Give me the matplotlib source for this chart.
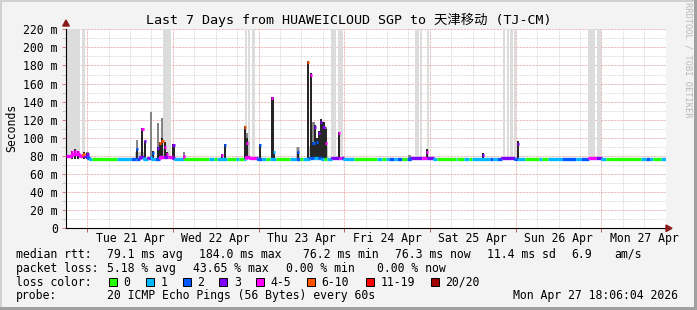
import matplotlib
matplotlib.use('Agg')
import matplotlib.pyplot as plt
from matplotlib.patches import Rectangle, Polygon

MONO = ['DejaVu Sans Mono', 'Noto Sans CJK SC']

# hours from Tue 21 Apr 00:00, graph ends Mon 27 Apr 18:06
T_START, T_END = -5.9, 162.1
DAY_LABELS = ['Tue 21 Apr', 'Wed 22 Apr', 'Thu 23 Apr', 'Fri 24 Apr',
              'Sat 25 Apr', 'Sun 26 Apr', 'Mon 27 Apr']

LOSS_NAMES = ['0', '1', '2', '3', '4-5', '6-10', '11-19', '20/20']
LOSS_COLORS = ['#26ff00', '#00b8ff', '#0059ff', '#7e00ff',
               '#ff00ff', '#ff5500', '#ff0000', '#a00000']

# median rtt (ms) as steps: start hour, loss class, value
seg_start = [-5.9, -4.2, -2.0, -1.1, -0.6, 0.3, 0.8, 1.4, 8.5, 12.2, 13.7, 14.8,
             15.9, 17.1, 18.2, 19.0, 20.4, 21.5, 22.7, 24.1, 24.6, 27.1, 27.4,
             34.1, 35.5, 36.4, 39.2, 41.6, 42.5, 43.9, 44.5, 45.6, 47.3, 47.8,
             49.0, 50.1, 51.2, 52.9, 56.8, 58.5, 59.6, 60.4, 62.4, 63.5, 64.6,
             65.7, 66.3, 67.1, 68.5, 70.5, 71.0, 71.9, 74.7, 81.1, 82.5, 83.6,
             84.5, 85.9, 86.7, 88.1, 89.5, 90.6, 93.7, 95.1, 97.1, 97.9, 103.2,
             103.5, 105.5, 106.9, 107.7, 112.7, 113.8, 114.7, 116.1, 119.7,
             120.6, 122.7, 126.4, 127.3, 129.2, 132.9, 136.8, 138.2, 140.4,
             142.4, 144.1, 145.2, 155.0, 156.4, 157.5, 158.6, 160.6]
seg_loss = [4, 4, 4, 5, 3, 2, 1, 0, 1, 2, 2, 3,
            1, 3, 1, 2, 4, 3, 4, 3, 1, 4, 0,
            1, 0, 1, 0, 1, 0, 1, 4, 4, 3, 2,
            1, 0, 1, 0, 1, 2, 0, 1, 2, 1, 2,
            1, 0, 1, 3, 4, 3, 1, 0, 1, 0, 1,
            2, 1, 2, 0, 2, 3, 4, 3, 1, 0, 1,
            0, 1, 0, 1, 2, 1, 2, 3, 2,
            1, 0, 1, 0, 1, 2, 1, 2, 4,
            3, 1, 0, 1, 2, 1, 0, 1]
seg_rtt = [80, 82, 79.5, 80.5, 80, 78, 77, 76.5, 76.5, 76.7, 77, 78.5,
           77, 78, 77, 77, 79, 79, 79, 78, 76.7, 77.5, 76.5,
           76.5, 76.5, 76.7, 76.5, 76.7, 76.5, 77, 79, 78, 77.5, 77,
           76.7, 76.5, 76.8, 76.5, 76.7, 77, 76.5, 77, 78, 78, 78,
           77, 76.7, 77, 78, 78, 78, 76.8, 76.5, 76.7, 76.5, 76.7,
           76.8, 76.7, 76.8, 76.5, 77, 77.5, 78, 77.5, 76.8, 76.5, 76.7,
           76.5, 76.7, 76.5, 76.7, 77, 76.8, 77, 77.5, 77,
           76.7, 76.5, 76.7, 76.5, 76.7, 77, 76.8, 77, 77.5,
           77.5, 76.8, 76.5, 76.7, 76.8, 76.7, 76.5, 76.7]

# spikes: hour, smoke top, dense smoke top, median, loss class
spike_h = [-4.2, -3.4, -2.5, -0.8, 0.1, 14.0, 15.5, 16.1, 17.8, 18.5, 19.9,
           20.4, 21.1, 21.7, 22.4, 24.2, 27.1, 37.8, 38.7, 44.3, 44.9, 48.4,
           51.9, 52.4, 59.0, 61.9, 62.8, 63.4, 63.9, 64.5, 65.0, 65.6, 66.2,
           66.8, 70.5, 90.3, 95.2, 110.9, 120.7]
spike_top = [86, 87.5, 86, 84, 84, 97.5, 111, 97, 128.6, 85, 116,
             95, 122, 95, 84, 93, 84, 82, 93, 113, 105, 93,
             145, 85, 90, 185, 171.5, 118, 114, 100, 108, 121, 118,
             112, 107, 81, 88, 83, 96]
spike_core = [86, 87.5, 85, 84, 83, 88, 111, 97, 79, 85, 90,
              95, 100, 95, 84, 93, 79, 82, 93, 113, 100, 93,
              145, 85, 84, 185, 171.5, 95, 114, 100, 108, 121, 118,
              110, 107, 78, 88, 83, 96]
spike_med = [84, 85, 84.5, 82, 82, 88, 110, 96, 79, 83, 89,
             94, 97, 90, 82, 92, 80, 81, 92, 112, 94, 92,
             144, 84, 84, 184, 170, 94, 112, 95, 105, 117, 112,
             94, 105, 77, 84, 81, 93]
spike_loss = [4, 4, 4, 5, 3, 2, 4, 3, 1, 2, 3,
              5, 5, 4, 4, 3, 4, 4, 2, 5, 4, 2,
              4, 1, 2, 5, 4, 2, 3, 2, 3, 3, 3,
              4, 4, 2, 4, 3, 3]

# light smoke around busy periods: from, to, top
haze_from = [13.5, 19.5, 43.8, 51.4, 58.5, 61.5]
haze_to = [16.5, 21.5, 45.5, 52.1, 59.5, 67.5]
haze_top = [84, 88, 97, 97, 90, 91]

# grey unknown bands: from, to
band_from = [-5.7, -1.3, 21.3, 44.2, 45.1, 46.1, 68.4, 70.3, 91.7, 93.1, 95.2,
             116.4, 117.7, 118.5, 119.6, 140.2, 142.9]
band_to = [-2.0, -0.6, 23.4, 44.7, 45.6, 47.1, 69.7, 71.7, 92.9, 93.8, 95.7,
           117.1, 118.1, 119.2, 120.0, 142.1, 144.0]

W, H = 697, 310
L, R, T, B = 66, 666, 29.3, 228.3


def fx(px):
    return px / W


def fy(py):
    return 1 - py / H


def box(x, y, w, h, color, **kw):
    fig.add_artist(Rectangle((fx(x), fy(y + h)), w / W, h / H, transform=fig.transFigure,
                             facecolor=color, **kw))


fig = plt.figure(figsize=(W / 100, H / 100), dpi=100)
fig.patch.set_facecolor('#f3f3f3')

# frame shading
box(0, 0, W, 2, '#d0d0d0', edgecolor='none')
box(0, 0, 2, H, '#d0d0d0', edgecolor='none')
box(0, H - 3, W, 3, '#a0a0a0', edgecolor='none')
box(W - 3, 0, 3, H, '#a0a0a0', edgecolor='none')

ax = fig.add_axes([fx(L), fy(B), (R - L) / W, (B - T) / H])
ax.set_xlim(T_START, T_END)
ax.set_ylim(0, 220)
ax.set_facecolor('white')

dot = (0, (0.72, 0.72))
for h in range(0, 163, 6):
    c = '#e4a0a0' if h % 24 == 0 and h <= 144 else '#d6d6d6'
    ax.axvline(h, color=c, lw=0.72, ls=dot, zorder=1)
for v in range(10, 221, 10):
    c = '#e4a0a0' if v % 20 == 0 else '#d6d6d6'
    ax.axhline(v, color=c, lw=0.72, ls=dot, zorder=1)

for a, b in zip(band_from, band_to):
    ax.fill_between([a, b], 79, 220, color='#dcdcdc', lw=0, zorder=2)

for a, b, t in zip(haze_from, haze_to, haze_top):
    ax.fill_between([a, b], 77, t, color='#c4c4c4', lw=0, zorder=3)

w = 0.6
tops = [t - 77 for t in spike_top]
cores = [c - 77 for c in spike_core]
ax.bar(spike_h, tops, bottom=77, width=w, color='#858585', lw=0, zorder=4)
ax.bar(spike_h, cores, bottom=77, width=w, color='#262626', lw=0, zorder=5)

# median line coloured by loss
ends = seg_start[1:] + [T_END]
prev = seg_rtt[0]
for s, e, lc, v in zip(seg_start, ends, seg_loss, seg_rtt):
    ax.plot([s, s, e], [prev, v, v], color=LOSS_COLORS[lc], lw=2.4,
            solid_capstyle='butt', zorder=6)
    prev = v
for h, m, lc in zip(spike_h, spike_med, spike_loss):
    ax.hlines(m, h - w / 2, h + w / 2, color=LOSS_COLORS[lc], lw=2.2, zorder=7)

for sp in ['top', 'right']:
    ax.spines[sp].set_visible(False)
ax.spines['left'].set_linewidth(0.8)
ax.spines['bottom'].set_linewidth(0.8)

yt = list(range(0, 221, 20))
ax.set_yticks(yt, ['0' if v == 0 else f'{v} m' for v in yt])
ax.set_yticks(range(10, 220, 20), minor=True)
ax.tick_params(axis='y', which='major', length=3, width=0.7, color='#d08080', pad=3,
               labelsize=8.3)
ax.tick_params(axis='y', which='minor', length=3, width=0.7, color='#c8c8c8')
ax.set_xticks([12 + 24 * i for i in range(7)], DAY_LABELS)
ax.set_xticks([24 * i for i in range(7)], minor=True)
ax.tick_params(axis='x', which='major', length=0, pad=2.5, labelsize=8.3)
ax.tick_params(axis='x', which='minor', length=3, width=0.7, color='#c06060')
for lab in ax.get_xticklabels() + ax.get_yticklabels():
    lab.set_family(MONO)

# axis arrows
fig.add_artist(Polygon([(fx(666), fy(225)), (fx(672), fy(228.3)), (fx(666), fy(231.6))],
                       closed=True, transform=fig.transFigure, color='#8b1a1a'))
fig.add_artist(Polygon([(fx(62.7), fy(26)), (fx(66), fy(20)), (fx(69.3), fy(26))],
                       closed=True, transform=fig.transFigure, color='#8b1a1a'))

fig.text(0.5, fy(20), 'Last 7 Days from HUAWEICLOUD SGP to 天津移动 (TJ-CM)',
         ha='center', va='center', fontsize=9.6, family=MONO)
fig.text(fx(11.5), fy(128), 'Seconds', rotation=90, ha='center', va='center',
         fontsize=8.3, family=MONO)
fig.text(fx(688), fy(60), 'RRDTOOL / TOBI OETIKER', rotation=270, ha='center',
         va='center', fontsize=6.2, color='#b8b8b8', family=MONO)

# legend rows
rows = [
    (254.3, [(16, 'median rtt:'), (107.3, '79.1 ms avg'), (199, '184.0 ms max'),
             (303.3, '76.2 ms min'), (395, '76.3 ms now'), (486.7, '11.4 ms sd'),
             (571.7, '6.9'), (614, 'am/s')]),
    (268.3, [(16, 'packet loss:'), (107.3, '5.18 % avg'), (192.7, '43.65 % max'),
             (286, '0.00 % min'), (376.7, '0.00 % now')]),
    (282.3, [(16, 'loss color:')]),
    (296.0, [(16, 'probe:'), (107.3, '20 ICMP Echo Pings (56 Bytes) every 60s'),
             (512.7, 'Mon Apr 27 18:06:04 2026')]),
]
for y, items in rows:
    for x, s in items:
        fig.text(fx(x), fy(y), s, ha='left', va='center', fontsize=8.3, family=MONO)

box_x = [108.7, 145.7, 182.7, 219.3, 256.3, 306.7, 365.7, 430.7]
for x, name, col in zip(box_x, LOSS_NAMES, LOSS_COLORS):
    box(x, 278, 8, 8, col, edgecolor='black', linewidth=0.7)
    fig.text(fx(x + 14.5), fy(282.3), name, ha='left', va='center', fontsize=8.3,
             family=MONO)

fig.savefig('out.png', dpi=100, facecolor=fig.get_facecolor())
